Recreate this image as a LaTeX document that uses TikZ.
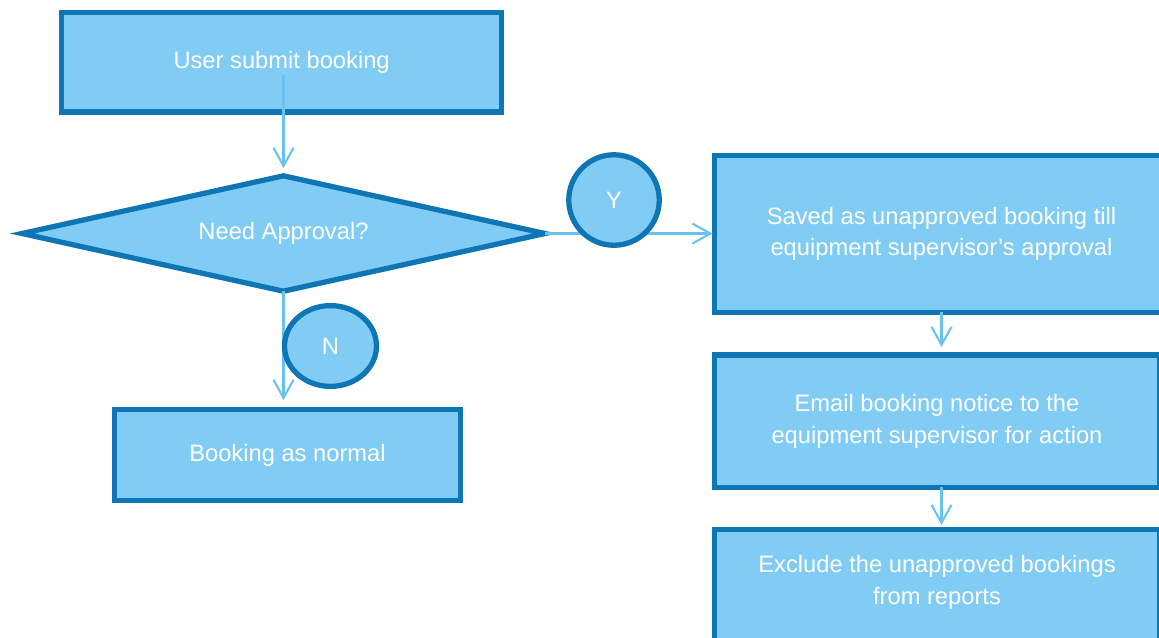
\documentclass[tikz,border=0pt]{standalone}
\usepackage{fontspec}
\setmainfont{Liberation Sans}
\usetikzlibrary{shapes.geometric,arrows.meta}

\definecolor{boxfill}{RGB}{128,204,245}
\definecolor{boxline}{RGB}{14,118,180}
\definecolor{linkcol}{RGB}{105,194,242}

\tikzset{
  shapebase/.style={draw=boxline, fill=boxfill, line width=3pt, inner sep=0pt, outer sep=0pt,
    text=white, align=center, font=\fontsize{13.5pt}{18.1pt}\selectfont},
  stepbox/.style={shapebase, rectangle},
  decision/.style={shapebase, diamond, aspect=4.53},
  tag/.style={shapebase, ellipse},
  lbl/.style={text=white, align=center, inner sep=0pt, font=\fontsize{13.5pt}{18.1pt}\selectfont},
  link/.style={draw=linkcol, line width=1.3pt,
    -{Straight Barb[length=0.36cm, width=0.4cm, line width=1.2pt]}},
}

\begin{document}
\begin{tikzpicture}[x=0.02cm, y=-0.02cm]
  \useasboundingbox (0,0) rectangle (1159,637);
  \clip (0,0) rectangle (1159,637);

  % process steps and the decision
  \node[stepbox, minimum width=8.795cm, minimum height=1.985cm] (submit) at (281.6,62.4) {User submit booking};
  \node[decision, minimum width=10.46cm, minimum height=2.308cm] (need) at (283.5,233.5) {Need Approval?};
  \node[stepbox, minimum width=9.08cm, minimum height=3.135cm] (saved) at (941.5,233.9)
    {Saved as unapproved booking till\\equipment supervisor’s approval};
  \node[stepbox, minimum width=8.9cm, minimum height=2.645cm] (email) at (937,421.1)
    {Email booking notice to the\\equipment supervisor for action};
  \node[stepbox, minimum width=8.9cm, minimum height=2.8cm, anchor=north] (exclude) at (937,529.5) {};
  \node[lbl] (excludetext) at (937,582.5) {Exclude the unapproved bookings\\from reports};
  \node[stepbox, minimum width=6.92cm, minimum height=1.82cm] (normal) at (287.5,455) {Booking as normal};

  % connectors
  \draw[link, shorten >=0.156cm] ([yshift=-0.25cm]submit.center -| need.north) -- (need.north);
  \draw[link, shorten >=0.04cm] (need.east) -- (need.east -| saved.west);
  \draw[link, shorten >=0.19cm] (need.south) -- (need.south |- normal.north);
  \draw[link, shorten >=0.16cm] (saved.south) -- (saved.south |- email.north);
  \draw[link, shorten >=0.09cm] (email.south -| saved.south) -- (exclude.north -| saved.south);

  % branch markers
  \node[tag, minimum width=1.81cm, minimum height=1.81cm] (yes) at (614,200) {Y};
  \node[tag, minimum width=1.84cm, minimum height=1.616cm] (no) at (330.5,346) {N};
\end{tikzpicture}
\end{document}
